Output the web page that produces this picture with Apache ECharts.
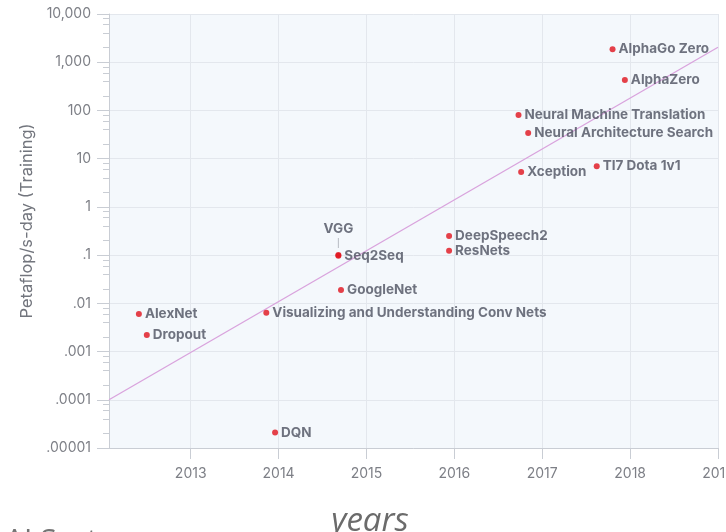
<!DOCTYPE html>
<html>
<head>
<meta charset="utf-8">
<script src="https://cdn.jsdelivr.net/npm/echarts@6/dist/echarts.min.js"></script>
<style>
  html, body { margin: 0; padding: 0; background: #fff; }
  #chart { width: 726px; height: 532px; }
</style>
</head>
<body>
<div id="chart"></div>
<script>
// Training runs: year of publication vs. compute (petaflop/s-days)
const modelNames = [
  'AlexNet', 'Dropout', 'DQN', 'Visualizing and Understanding Conv Nets',
  'Seq2Seq', 'VGG', 'GoogleNet', 'DeepSpeech2', 'ResNets',
  'Neural Machine Translation', 'Neural Architecture Search', 'Xception',
  'TI7 Dota 1v1', 'AlphaGo Zero', 'AlphaZero'
];
const modelYears = [
  2012.41, 2012.50, 2013.96, 2013.86,
  2014.68, 2014.68, 2014.71, 2015.94, 2015.94,
  2016.73, 2016.84, 2016.76,
  2017.62, 2017.80, 2017.94
];
const modelCompute = [
  0.0060, 0.0022, 0.000021, 0.0064,
  0.097, 0.10, 0.0188, 0.248, 0.123,
  80, 34, 5.3,
  7.0, 1850, 427
];

// fitted exponential trend, end points
const trendYears = [2012.07, 2019];
const trendCompute = [0.0001, 2050];

const yTickLabels = ['.00001', '.0001', '.001', '.01', '.1', '1', '10', '100', '1,000', '10,000'];
const xTickYears = [2013, 2014, 2015, 2016, 2017, 2018, 2019];

// minor ticks at 2, 4, 6, 8 of every decade, as log10 positions for the helper axis
const minorMultipliers = [2, 4, 6, 8];
const minorTickPos = [];
for (let d = -5; d < 4; d++) {
  for (const k of minorMultipliers) minorTickPos.push(d + Math.log10(k));
}

const labelColor = '#4c505f';
const axisGray = '#c9cdd4';
const gridGray = '#e3e7ed';
const tickText = '#7d7f86';

const points = modelNames.map((name, i) => {
  const item = { name, value: [modelYears[i], modelCompute[i]] };
  if (name === 'VGG') {
    item.label = {
      position: 'top',
      distance: 4,
      formatter: '{a|VGG}\n{b|}',
      rich: {
        a: { fontFamily: 'Inter', fontWeight: 'bold', fontSize: 13.5, color: labelColor, align: 'center', padding: [0, 0, 2, 0] },
        b: { width: 1, height: 10, backgroundColor: '#a9adb5', align: 'center' }
      }
    };
  }
  return item;
});

const chart = echarts.init(document.getElementById('chart'));
chart.setOption({
  animation: false,
  backgroundColor: '#ffffff',
  title: {
    text: 'AI Sort',
    left: 0,
    top: 521,
    textStyle: { fontFamily: 'Open Sans', fontWeight: 'normal', fontSize: 30, color: '#747474' }
  },
  grid: {
    left: 109,
    right: 8,
    top: 14,
    bottom: 84,
    outerBoundsMode: 'none',
    containLabel: false,
    show: true,
    backgroundColor: '#f4f8fc',
    borderWidth: 0
  },
  xAxis: {
    type: 'value',
    min: 2012.07,
    max: 2019,
    minInterval: 1,
    maxInterval: 1,
    name: 'years',
    nameLocation: 'middle',
    nameGap: 57,
    nameTextStyle: {
      fontFamily: 'Open Sans',
      fontStyle: 'italic',
      fontSize: 33,
      color: '#6b6b6b',
      padding: [0, 87, 0, 0]
    },
    axisLine: { show: true, onZero: false, lineStyle: { color: axisGray, width: 1 } },
    axisTick: { show: true, length: 11, lineStyle: { color: axisGray } },
    axisLabel: {
      showMinLabel: false,
      margin: 19,
      fontFamily: 'Inter',
      fontSize: 14,
      color: tickText,
      formatter: (v) => (xTickYears.includes(Math.round(v)) ? String(Math.round(v)) : '')
    },
    splitLine: { show: true, lineStyle: { color: gridGray, width: 1 } }
  },
  yAxis: [
    {
      type: 'log',
      logBase: 10,
      min: 0.00001,
      max: 10000,
      splitNumber: 10,
      name: 'Petaflop/s-day (Training)',
      nameLocation: 'middle',
      nameGap: 73,
      nameTextStyle: {
        fontFamily: 'Inter',
        fontSize: 16.5,
        color: '#72757d',
        padding: [0, 0, 0, 20]
      },
      axisLine: { show: true, onZero: false, lineStyle: { color: axisGray, width: 1 } },
      axisTick: { show: true, length: 12, lineStyle: { color: axisGray } },
      axisLabel: {
        margin: 18,
        fontFamily: 'Inter',
        fontSize: 14,
        color: tickText,
        formatter: (v) => yTickLabels[Math.round(Math.log10(v)) + 5] || ''
      },
      splitLine: { show: true, lineStyle: { color: gridGray, width: 1 } }
    },
    {
      // helper axis that only carries the minor ticks
      type: 'value',
      min: -5,
      max: 4,
      position: 'left',
      offset: 0,
      axisLine: { show: false, onZero: false },
      axisLabel: { show: false },
      splitLine: { show: false },
      axisTick: {
        show: true,
        length: 6,
        customValues: minorTickPos,
        lineStyle: { color: axisGray }
      }
    }
  ],
  series: [
    {
      type: 'line',
      data: trendYears.map((x, i) => [x, trendCompute[i]]),
      showSymbol: false,
      silent: true,
      lineStyle: { color: '#d9a3dd', width: 1.3 },
      z: 2
    },
    {
      type: 'scatter',
      data: points,
      symbolSize: 6,
      itemStyle: { color: '#e0111c' },
      label: {
        show: true,
        position: 'right',
        distance: 3,
        formatter: '{b}',
        fontFamily: 'Inter',
        fontWeight: 'bold',
        fontSize: 13.5,
        color: labelColor
      },
      labelLayout: { hideOverlap: false },
      z: 3
    }
  ]
});
window.addEventListener('resize', () => chart.resize());
</script>
</body>
</html>
